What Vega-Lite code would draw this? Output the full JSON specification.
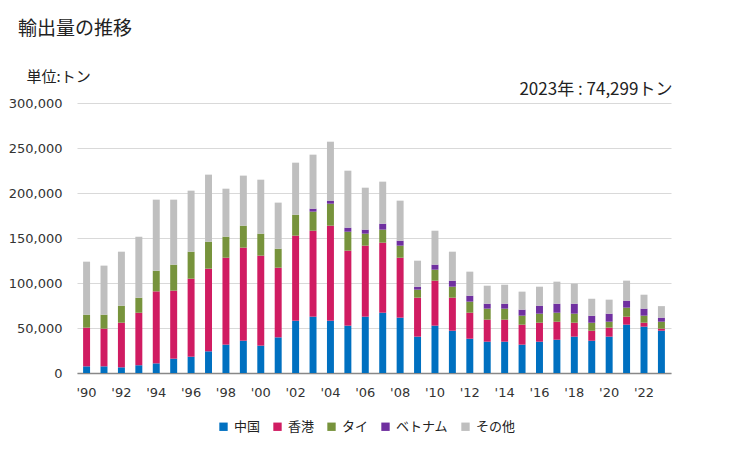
{
  "$schema": "https://vega.github.io/schema/vega-lite/v6.json",
  "width": 594,
  "height": 270,
  "autosize": {"type": "none"},
  "padding": {"left": 77, "top": 103, "right": 58, "bottom": 77},
  "background": "white",
  "title": {
    "text": "輸出量の推移",
    "anchor": "start",
    "frame": "group",
    "dx": -59,
    "offset": 30,
    "font": "Noto Sans CJK JP",
    "fontSize": 19,
    "fontWeight": "normal",
    "color": "#222222"
  },
  "datasets": {
    "exports": [
      {"year": 1990, "country": "中国", "value": 7400}, {"year": 1990, "country": "香港", "value": 43000}, {"year": 1990, "country": "タイ", "value": 14400}, {"year": 1990, "country": "その他", "value": 58900},
      {"year": 1991, "country": "中国", "value": 7400}, {"year": 1991, "country": "香港", "value": 41900}, {"year": 1991, "country": "タイ", "value": 15500}, {"year": 1991, "country": "その他", "value": 54500},
      {"year": 1992, "country": "中国", "value": 6300}, {"year": 1992, "country": "香港", "value": 49600}, {"year": 1992, "country": "タイ", "value": 18900}, {"year": 1992, "country": "その他", "value": 60000},
      {"year": 1993, "country": "中国", "value": 8500}, {"year": 1993, "country": "香港", "value": 58500}, {"year": 1993, "country": "タイ", "value": 16700}, {"year": 1993, "country": "その他", "value": 67800},
      {"year": 1994, "country": "中国", "value": 10700}, {"year": 1994, "country": "香港", "value": 80000}, {"year": 1994, "country": "タイ", "value": 23000}, {"year": 1994, "country": "その他", "value": 78900},
      {"year": 1995, "country": "中国", "value": 15900}, {"year": 1995, "country": "香港", "value": 75600}, {"year": 1995, "country": "タイ", "value": 28900}, {"year": 1995, "country": "その他", "value": 72200},
      {"year": 1996, "country": "中国", "value": 18100}, {"year": 1996, "country": "香港", "value": 86700}, {"year": 1996, "country": "タイ", "value": 30000}, {"year": 1996, "country": "その他", "value": 67800},
      {"year": 1997, "country": "中国", "value": 24100}, {"year": 1997, "country": "香港", "value": 91800}, {"year": 1997, "country": "タイ", "value": 30000}, {"year": 1997, "country": "その他", "value": 74500},
      {"year": 1998, "country": "中国", "value": 31500}, {"year": 1998, "country": "香港", "value": 96600}, {"year": 1998, "country": "タイ", "value": 23400}, {"year": 1998, "country": "その他", "value": 53300},
      {"year": 1999, "country": "中国", "value": 35900}, {"year": 1999, "country": "香港", "value": 103400}, {"year": 1999, "country": "タイ", "value": 24400}, {"year": 1999, "country": "その他", "value": 55600},
      {"year": 2000, "country": "中国", "value": 30400}, {"year": 2000, "country": "香港", "value": 100000}, {"year": 2000, "country": "タイ", "value": 24400}, {"year": 2000, "country": "その他", "value": 60000},
      {"year": 2001, "country": "中国", "value": 39600}, {"year": 2001, "country": "香港", "value": 77400}, {"year": 2001, "country": "タイ", "value": 21100}, {"year": 2001, "country": "その他", "value": 51200},
      {"year": 2002, "country": "中国", "value": 58100}, {"year": 2002, "country": "香港", "value": 94500}, {"year": 2002, "country": "タイ", "value": 23300}, {"year": 2002, "country": "その他", "value": 57800},
      {"year": 2003, "country": "中国", "value": 62600}, {"year": 2003, "country": "香港", "value": 95500}, {"year": 2003, "country": "タイ", "value": 21200}, {"year": 2003, "country": "ベトナム", "value": 3300}, {"year": 2003, "country": "その他", "value": 60000},
      {"year": 2004, "country": "中国", "value": 58100}, {"year": 2004, "country": "香港", "value": 105600}, {"year": 2004, "country": "タイ", "value": 24400}, {"year": 2004, "country": "ベトナム", "value": 3400}, {"year": 2004, "country": "その他", "value": 65500},
      {"year": 2005, "country": "中国", "value": 52600}, {"year": 2005, "country": "香港", "value": 83300}, {"year": 2005, "country": "タイ", "value": 21100}, {"year": 2005, "country": "ベトナム", "value": 4500}, {"year": 2005, "country": "その他", "value": 63300},
      {"year": 2006, "country": "中国", "value": 62600}, {"year": 2006, "country": "香港", "value": 78900}, {"year": 2006, "country": "タイ", "value": 13300}, {"year": 2006, "country": "ベトナム", "value": 4500}, {"year": 2006, "country": "その他", "value": 46600},
      {"year": 2007, "country": "中国", "value": 67000}, {"year": 2007, "country": "香港", "value": 77800}, {"year": 2007, "country": "タイ", "value": 14500}, {"year": 2007, "country": "ベトナム", "value": 6600}, {"year": 2007, "country": "その他", "value": 46700},
      {"year": 2008, "country": "中国", "value": 61500}, {"year": 2008, "country": "香港", "value": 66600}, {"year": 2008, "country": "タイ", "value": 13400}, {"year": 2008, "country": "ベトナム", "value": 5500}, {"year": 2008, "country": "その他", "value": 44500},
      {"year": 2009, "country": "中国", "value": 40400}, {"year": 2009, "country": "香港", "value": 43300}, {"year": 2009, "country": "タイ", "value": 8900}, {"year": 2009, "country": "ベトナム", "value": 3300}, {"year": 2009, "country": "その他", "value": 28900},
      {"year": 2010, "country": "中国", "value": 52600}, {"year": 2010, "country": "香港", "value": 50000}, {"year": 2010, "country": "タイ", "value": 12200}, {"year": 2010, "country": "ベトナム", "value": 5600}, {"year": 2010, "country": "その他", "value": 37700},
      {"year": 2011, "country": "中国", "value": 47000}, {"year": 2011, "country": "香港", "value": 36700}, {"year": 2011, "country": "タイ", "value": 12200}, {"year": 2011, "country": "ベトナム", "value": 6700}, {"year": 2011, "country": "その他", "value": 32200},
      {"year": 2012, "country": "中国", "value": 38100}, {"year": 2012, "country": "香港", "value": 28900}, {"year": 2012, "country": "タイ", "value": 12300}, {"year": 2012, "country": "ベトナム", "value": 6600}, {"year": 2012, "country": "その他", "value": 26700},
      {"year": 2013, "country": "中国", "value": 34800}, {"year": 2013, "country": "香港", "value": 24500}, {"year": 2013, "country": "タイ", "value": 12200}, {"year": 2013, "country": "ベトナム", "value": 5500}, {"year": 2013, "country": "その他", "value": 20000},
      {"year": 2014, "country": "中国", "value": 34800}, {"year": 2014, "country": "香港", "value": 24500}, {"year": 2014, "country": "タイ", "value": 12200}, {"year": 2014, "country": "ベトナム", "value": 5500}, {"year": 2014, "country": "その他", "value": 21100},
      {"year": 2015, "country": "中国", "value": 31500}, {"year": 2015, "country": "香港", "value": 22200}, {"year": 2015, "country": "タイ", "value": 10000}, {"year": 2015, "country": "ベトナム", "value": 6700}, {"year": 2015, "country": "その他", "value": 20000},
      {"year": 2016, "country": "中国", "value": 34800}, {"year": 2016, "country": "香港", "value": 21100}, {"year": 2016, "country": "タイ", "value": 10000}, {"year": 2016, "country": "ベトナム", "value": 8900}, {"year": 2016, "country": "その他", "value": 21100},
      {"year": 2017, "country": "中国", "value": 37000}, {"year": 2017, "country": "香港", "value": 20000}, {"year": 2017, "country": "タイ", "value": 10000}, {"year": 2017, "country": "ベトナム", "value": 10000}, {"year": 2017, "country": "その他", "value": 24500},
      {"year": 2018, "country": "中国", "value": 40400}, {"year": 2018, "country": "香港", "value": 15500}, {"year": 2018, "country": "タイ", "value": 10000}, {"year": 2018, "country": "ベトナム", "value": 11100}, {"year": 2018, "country": "その他", "value": 22300},
      {"year": 2019, "country": "中国", "value": 35900}, {"year": 2019, "country": "香港", "value": 11100}, {"year": 2019, "country": "タイ", "value": 8900}, {"year": 2019, "country": "ベトナム", "value": 7800}, {"year": 2019, "country": "その他", "value": 18900},
      {"year": 2020, "country": "中国", "value": 40400}, {"year": 2020, "country": "香港", "value": 10000}, {"year": 2020, "country": "タイ", "value": 6600}, {"year": 2020, "country": "ベトナム", "value": 8900}, {"year": 2020, "country": "その他", "value": 15600},
      {"year": 2021, "country": "中国", "value": 53700}, {"year": 2021, "country": "香港", "value": 8900}, {"year": 2021, "country": "タイ", "value": 10000}, {"year": 2021, "country": "ベトナム", "value": 7800}, {"year": 2021, "country": "その他", "value": 22200},
      {"year": 2022, "country": "中国", "value": 51500}, {"year": 2022, "country": "香港", "value": 4400}, {"year": 2022, "country": "タイ", "value": 7800}, {"year": 2022, "country": "ベトナム", "value": 7800}, {"year": 2022, "country": "その他", "value": 15500},
      {"year": 2023, "country": "中国", "value": 47000}, {"year": 2023, "country": "香港", "value": 2300}, {"year": 2023, "country": "タイ", "value": 7700}, {"year": 2023, "country": "ベトナム", "value": 4500}, {"year": 2023, "country": "その他", "value": 12799}
    ],
    "note": [
      {"year": 2023, "top": 300000, "label": "2023年 : 74,299トン"}
    ]
  },
  "config": {
    "view": {"stroke": null},
    "axis": {"labelFont": "DejaVu Sans", "labelFontSize": 13, "labelColor": "#333333"}
  },
  "layer": [
    {
      "data": {"name": "exports"},
      "transform": [
        {"calculate": "indexof(['中国','香港','タイ','ベトナム','その他'], datum.country)", "as": "stackorder"}
      ],
      "mark": {"type": "bar"},
      "encoding": {
        "x": {
          "field": "year",
          "type": "ordinal",
          "scale": {"paddingInner": 0.6, "paddingOuter": 0.35},
          "axis": {
            "title": null,
            "labelAngle": 0,
            "ticks": false,
            "domainColor": "#888888",
            "domainWidth": 1.5,
            "labelPadding": 13,
            "labelExpr": "(+datum.value) % 2 == 0 ? \"'\" + substring(toString(datum.value), 2, 4) : ''"
          }
        },
        "y": {
          "field": "value",
          "type": "quantitative",
          "aggregate": "sum",
          "stack": "zero",
          "scale": {"domain": [0, 300000], "nice": false},
          "axis": {
            "title": "単位:トン",
            "titleFont": "Noto Sans CJK JP",
            "titleFontSize": 15,
            "titleFontWeight": "normal",
            "titleColor": "#222222",
            "titleAngle": 0,
            "titleAlign": "left",
            "titleBaseline": "middle",
            "titleX": -51,
            "titleY": -27,
            "values": [0, 50000, 100000, 150000, 200000, 250000, 300000],
            "format": ",d",
            "ticks": false,
            "domain": false,
            "gridColor": "#D9D9D9",
            "gridWidth": 1,
            "labelPadding": 15
          }
        },
        "color": {
          "field": "country",
          "type": "nominal",
          "scale": {
            "domain": ["中国", "香港", "タイ", "ベトナム", "その他"],
            "range": ["#0070C0", "#D01C62", "#77933C", "#7030A0", "#BFBFBF"]
          },
          "legend": {
            "title": null,
            "orient": "none",
            "direction": "horizontal",
            "legendX": 140,
            "legendY": 317,
            "padding": 0,
            "symbolType": "square",
            "symbolSize": 70,
            "symbolStrokeWidth": 0,
            "symbolOpacity": 1,
            "labelFont": "Noto Sans CJK JP",
            "labelFontSize": 13,
            "labelColor": "#222222",
            "labelOffset": 4,
            "columnPadding": 10
          }
        },
        "order": {"field": "stackorder", "type": "quantitative", "aggregate": "min"}
      }
    },
    {
      "data": {"name": "note"},
      "mark": {"type": "text", "align": "right", "baseline": "bottom", "dx": 11, "dy": -4, "font": "Noto Sans CJK JP", "fontSize": 17, "color": "#222222"},
      "encoding": {
        "x": {"field": "year", "type": "ordinal"},
        "y": {"field": "top", "type": "quantitative"},
        "text": {"field": "label"}
      }
    }
  ]
}
